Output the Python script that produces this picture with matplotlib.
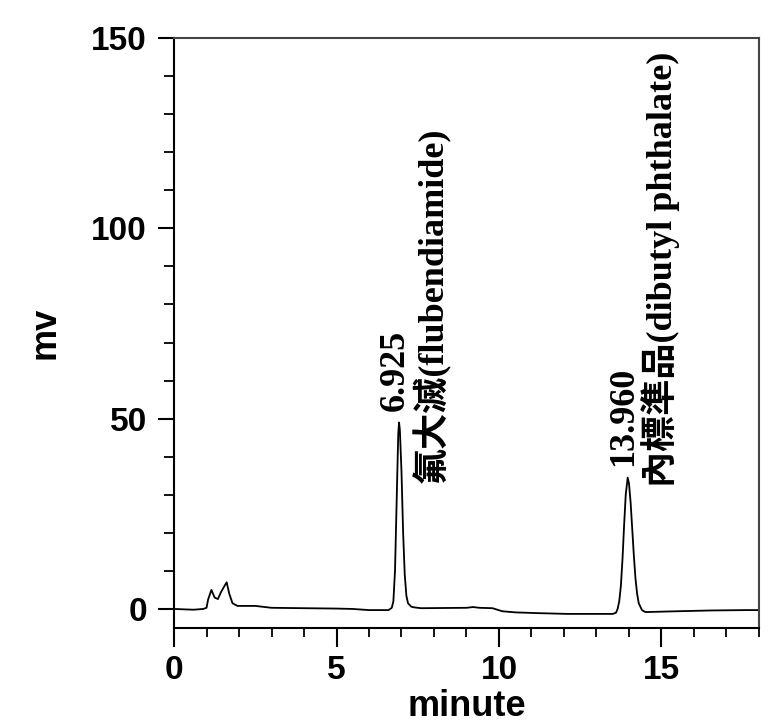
import matplotlib
matplotlib.use("Agg")
import matplotlib.pyplot as plt
from matplotlib.ticker import MultipleLocator

# ---- data ----
time_min = [0.0, 0.6, 0.9, 1.0, 1.05, 1.15, 1.25, 1.35, 1.45, 1.55, 1.62, 1.70, 1.80, 1.95,
            2.5, 3.0, 4.0, 5.0, 5.5, 6.0, 6.6, 6.70, 6.75, 6.80, 6.85, 6.90, 6.925, 6.95,
            7.00, 7.05, 7.10, 7.15, 7.20, 7.30, 7.40, 7.6, 9.0, 9.2, 9.4, 9.8, 10.1, 10.5,
            11.2, 12.1, 13.5, 13.60, 13.65, 13.70, 13.75, 13.80, 13.85, 13.90, 13.96, 14.00,
            14.05, 14.10, 14.15, 14.20, 14.25, 14.30, 14.40, 14.50, 14.6, 15.5, 16.5, 17.6, 18.0]
signal_mv = [0.0, -0.2, 0.0, 0.3, 2.5, 5.0, 3.0, 2.6, 4.5, 6.0, 7.0, 4.0, 1.5, 0.8,
             0.8, 0.3, 0.2, 0.1, 0.0, -0.3, -0.3, 0.3, 2.0, 10.0, 28.0, 46.0, 49.0, 47.0,
             36.0, 20.0, 9.0, 3.5, 1.5, 0.6, 0.4, 0.2, 0.3, 0.5, 0.3, 0.2, -0.6, -0.9,
             -1.1, -1.3, -1.3, -1.0, 0.0, 2.0, 6.0, 13.0, 22.0, 30.0, 34.5, 33.0,
             28.0, 21.0, 14.0, 8.0, 4.0, 1.5, -0.3, -0.8, -0.8, -0.6, -0.4, -0.3, -0.3]

peak_times = [6.925, 13.960]
peak_rt_labels = ["6.925", "13.960"]
peak_names = ["氟大滅(flubendiamide)", "內標準品(dibutyl phthalate)"]

x_ticks = [0, 5, 10, 15]
y_ticks = [0, 50, 100, 150]

# ---- figure ----
fig = plt.figure(figsize=(7.71, 7.27), dpi=100)
ax = fig.add_axes([0.2257, 0.1362, 0.7587, 0.8115])

ax.plot(time_min, signal_mv, color="black", lw=1.3)

ax.set_xlim(0, 18)
ax.set_ylim(-5, 150)
ax.set_xticks(x_ticks)
ax.set_yticks(y_ticks)
ax.xaxis.set_minor_locator(MultipleLocator(1))
ax.yaxis.set_minor_locator(MultipleLocator(10))

tick_font = dict(family="Liberation Sans", weight="bold", size=24)
ax.set_xticklabels([str(v) for v in x_ticks], fontdict=tick_font)
ax.set_yticklabels([str(v) for v in y_ticks], fontdict=tick_font)

ax.tick_params(axis="x", which="major", direction="out", length=13.5, width=1.5, pad=6)
ax.tick_params(axis="x", which="minor", direction="out", length=6.5, width=1.3)
ax.tick_params(axis="y", which="major", direction="out", length=11.5, width=1.5, pad=8)
ax.tick_params(axis="y", which="minor", direction="out", length=7, width=1.3)

for side in ["left", "bottom"]:
    ax.spines[side].set_color("black")
    ax.spines[side].set_linewidth(1.5)
for side in ["top", "right"]:
    ax.spines[side].set_color("#444444")
    ax.spines[side].set_linewidth(1.5)

ax.set_xlabel("minute", family="Liberation Sans", weight="bold", size=26, labelpad=2)
ax.set_ylabel("mv", family="Liberation Sans", weight="bold", size=26, labelpad=21)

ann_family = ["Liberation Serif", "Noto Sans CJK TC"]
rt_pos = [(6.82, 52), (13.82, 37.5)]
name_pos = [(7.95, 33), (14.97, 32)]
for (rx, ry), rl in zip(rt_pos, peak_rt_labels):
    ax.text(rx, ry, rl, rotation=90, ha="center", va="bottom",
            family=ann_family, weight="bold", size=26)
for (nx, ny), nm in zip(name_pos, peak_names):
    ax.text(nx, ny, nm, rotation=90, ha="center", va="bottom",
            family=ann_family, weight="bold", size=26)

fig.savefig("out.png", dpi=100)
